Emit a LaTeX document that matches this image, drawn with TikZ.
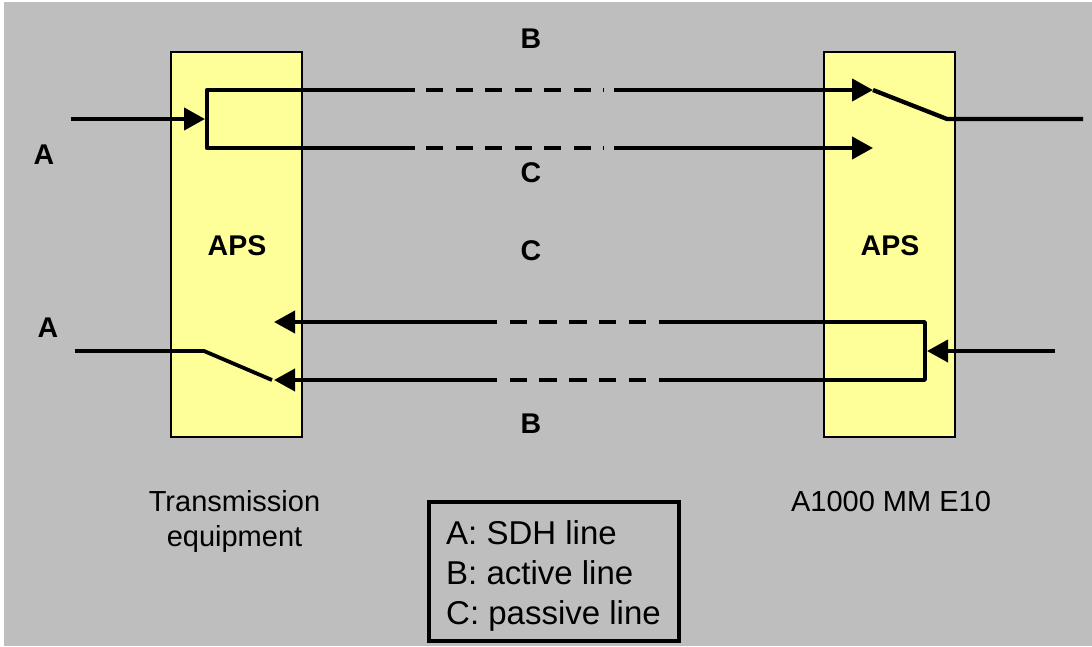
\documentclass[tikz,border=0pt]{standalone}
\usepackage{fontspec}
\setmainfont{Liberation Sans}
\usetikzlibrary{arrows.meta}
\definecolor{bggray}{HTML}{BEBEBE}
\definecolor{boxyellow}{HTML}{FFFF99}
\tikzset{
  apsbox/.style={draw=black,line width=2pt,fill=boxyellow,minimum width=131pt,minimum height=385pt,inner sep=0pt},
  wire/.style={draw=black,line width=4.3pt,line join=round},
  tipped/.style={wire,-{Triangle[length=21pt,width=22pt]},shorten >=0pt},
  dashA/.style={wire,dash pattern=on 17pt off 12.5pt},
  dashB/.style={wire,line width=4pt,dash pattern=on 17.5pt off 12.3pt},
  thin wire/.style={wire,line width=3.8pt},
  tipped low/.style={thin wire,-{Triangle[length=21pt,width=22pt]}},
  bold label/.style={font=\fontsize{28.5pt}{30pt}\selectfont\bfseries,inner sep=0pt,text=black},
  plain label/.style={font=\fontsize{29pt}{35pt}\selectfont,inner sep=0pt,text=black,align=center},
  legend text/.style={font=\fontsize{33pt}{36pt}\selectfont,inner sep=0pt,anchor=base west,text=black}
}
\begin{document}
\begin{tikzpicture}[x=1pt,y=-1pt]
\useasboundingbox (0,0) rectangle (1092,646);
\fill[white] (0,0) rectangle (1092,646);
\fill[bggray] (4,2) rectangle (1092,646);
\node[apsbox] (left) at (236.5,244.5) {};
\node[apsbox] (right) at (889.5,244.5) {};
% top coordinates
\coordinate (ainL) at (71,119);
\coordinate (forkL) at (205,119);
\coordinate (fa) at (207,90);
\coordinate (fb) at (207,148);
\coordinate (ta1) at (415,90);
\coordinate (ta2) at (426,90);
\coordinate (ta3) at (604,90);
\coordinate (ta4) at (614,90);
\coordinate (ta5) at (873,90);
\coordinate (tb1) at (415,148);
\coordinate (tb2) at (426,148);
\coordinate (tb3) at (604,148);
\coordinate (tb4) at (614,148);
\coordinate (tb5) at (873,148);
\coordinate (swR) at (947,119);
\coordinate (aoutR) at (1083,119);
% bottom coordinates
\coordinate (ainR) at (1055,351);
\coordinate (forkR) at (927,351);
\coordinate (ga) at (925,322);
\coordinate (gb) at (925,380);
\coordinate (ba1) at (674,322);
\coordinate (ba2) at (509.5,322);
\coordinate (ba3) at (497,322);
\coordinate (ba4) at (274,322);
\coordinate (bb1) at (674,380);
\coordinate (bb2) at (509.5,380);
\coordinate (bb3) at (497,380);
\coordinate (bb4) at (274,380);
\coordinate (swL) at (204,351);
\coordinate (aoutL) at (75,351);
\coordinate (swLend) at (272,380);
% top wires
\draw[tipped] (ainL) -- (forkL);
\draw[wire] (ta1) -- (fa) -- (fb) -- (tb1);
\draw[dashA] (ta2) -- (ta3);
\draw[dashA] (tb2) -- (tb3);
\draw[tipped] (ta4) -- (ta5);
\draw[tipped] (tb4) -- (tb5);
\draw[wire] (ta5) -- (swR) -- (aoutR);
% bottom wires
\draw[tipped low] (ainR) -- (forkR);
\draw[thin wire] (ba1) -- (ga) -- (gb) -- (bb1);
\draw[dashB] (ba2) -- (ba1);
\draw[dashB] (bb2) -- (bb1);
\draw[tipped low] (ba3) -- (ba4);
\draw[tipped low] (bb3) -- (bb4);
\draw[thin wire] (aoutL) -- (swL) -- (swLend);
% labels
\node[bold label] (lb1) at (531,39) {B};
\node[bold label] (lc1) at (531,173) {C};
\node[bold label] (lc2) at (531,250.5) {C};
\node[bold label] (lb2) at (531,424) {B};
\node[bold label] (la1) at (44,154.5) {A};
\node[bold label] (la2) at (48,327.5) {A};
\node[bold label] (apsL) at (237,245.5) {APS};
\node[bold label] (apsR) at (890,245.5) {APS};
\node[plain label] (tx) at (234.5,521) {Transmission\\equipment};
\node[plain label] (mm) at (891,502) {A1000 MM E10};
% legend
\node[draw=black,line width=4pt,minimum width=250pt,minimum height=139pt,inner sep=0pt] (legend) at (553.5,571) {};
\node[legend text] (l1) at (446,544) {A: SDH line};
\node[legend text] (l2) at (446,584) {B: active line};
\node[legend text] (l3) at (446,624) {C: passive line};
\end{tikzpicture}
\end{document}
